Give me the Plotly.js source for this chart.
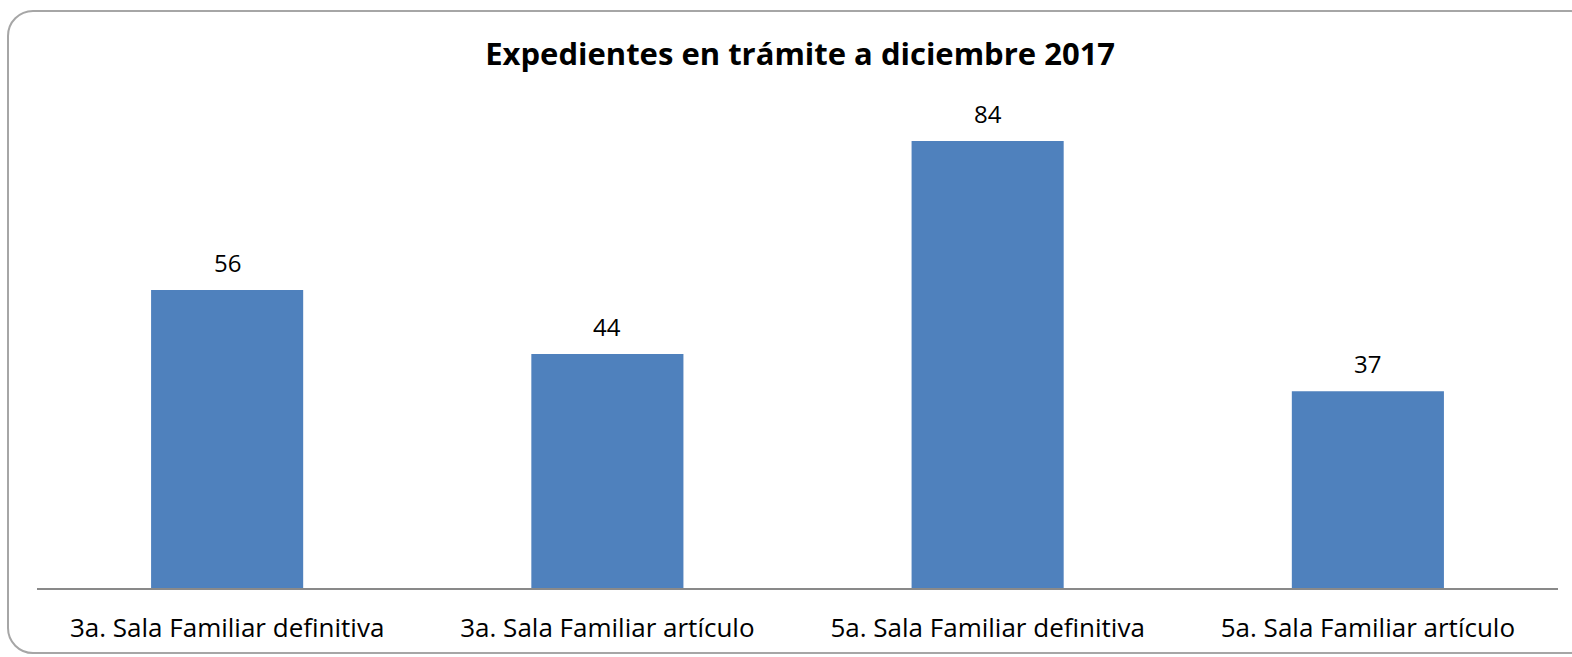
<!DOCTYPE html>
<html>
<head>
<meta charset="utf-8">
<script src="https://cdn.plot.ly/plotly-3.0.1.min.js"></script>
<style>
  html, body { margin: 0; padding: 0; width: 1572px; height: 657px; overflow: hidden; background: #ffffff; }
  #frame { position: absolute; left: 7px; top: 10px; width: 1590px; height: 644px; border: 2px solid #a6a6a6; border-radius: 26px; box-sizing: border-box; }
  #chart { position: absolute; left: 0; top: 0; width: 1572px; height: 657px; }
</style>
</head>
<body>
<div id="frame"></div>
<div id="chart"></div>
<script>
const categories = ["3a. Sala Familiar definitiva", "3a. Sala Familiar artículo", "5a. Sala Familiar definitiva", "5a. Sala Familiar artículo"];
const values = [56, 44, 84, 37];
const chartTitle = "Expedientes en trámite a diciembre 2017";

const FONT = "'Open Sans', 'Noto Sans', sans-serif";

const trace = {
  type: "bar",
  x: categories,
  y: values,
  marker: { color: "#4F81BD" },
  hoverinfo: "x+y"
};

const annotations = categories.map((c, i) => ({
  x: c, y: values[i], xref: "x", yref: "y",
  text: String(values[i]), showarrow: false,
  yanchor: "bottom", yshift: 9,
  font: { family: FONT, size: 24, color: "#000000" }
}));

const layout = {
  width: 1572, height: 657,
  paper_bgcolor: "rgba(0,0,0,0)",
  plot_bgcolor: "rgba(0,0,0,0)",
  margin: { l: 37, r: 13.5, t: 56, b: 68.5, pad: 0 },
  bargap: 0.6,
  showlegend: false,
  title: {
    text: "<b>" + chartTitle + "</b>",
    x: 0.509, xref: "container", xanchor: "center",
    y: 1 - 54 / 657, yref: "container", yanchor: "middle",
    font: { family: FONT, size: 31, color: "#000000" }
  },
  xaxis: {
    type: "category",
    showline: true, linecolor: "#898989", linewidth: 1.5,
    ticks: "outside", ticklen: 16, tickcolor: "rgba(0,0,0,0)",
    tickfont: { family: FONT, size: 26, color: "#000000" },
    showgrid: false, zeroline: false, fixedrange: true
  },
  yaxis: {
    range: [0, 100],
    visible: false, showgrid: false, zeroline: false, fixedrange: true
  },
  annotations: annotations
};

Plotly.newPlot("chart", [trace], layout, { displayModeBar: false, staticPlot: true });
</script>
</body>
</html>
